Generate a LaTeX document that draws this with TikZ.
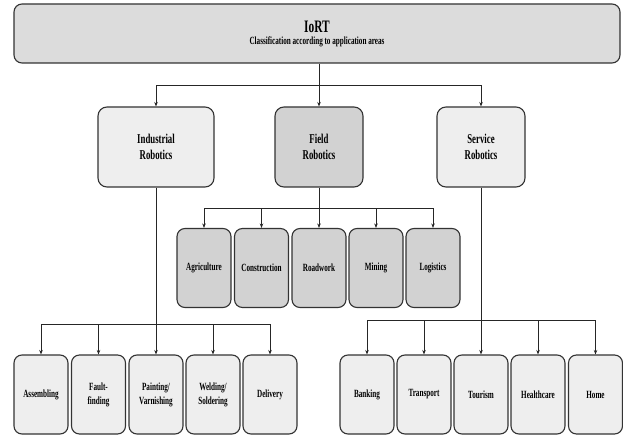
\documentclass[tikz,border=0pt]{standalone}
\usepackage{fontspec}
\setmainfont{Liberation Serif}[FakeStretch=0.65]
\usetikzlibrary{arrows.meta}
\definecolor{topfill}{HTML}{DCDCDC}
\definecolor{lightfill}{HTML}{EEEEEE}
\definecolor{midfill}{HTML}{D2D2D2}
\definecolor{edge}{HTML}{333333}
\begin{document}
\begin{tikzpicture}[x=1pt,y=-1pt,
  box/.style={draw=edge,line width=1.1pt,rounded corners=9pt,inner sep=0pt,align=center,font=\bfseries},
  mainbox/.style={box,minimum width=88pt,minimum height=80pt,font=\bfseries\fontsize{13.5}{16}\selectfont},
  leaf/.style={box,minimum width=54pt,minimum height=79pt,rounded corners=8pt,font=\bfseries\fontsize{11}{14}\selectfont},
  conn/.style={draw=black!85,line width=0.8pt},
  arr/.style={conn,-{Stealth[length=4.5pt,width=3.5pt]}}]
\useasboundingbox (0,0) rectangle (623,435);
\node[box,fill=topfill,minimum width=606pt,minimum height=59pt,rounded corners=8pt] (top) at (317,33.5)
  {{\fontsize{17.5}{19}\selectfont IoRT}\\[0pt]{\fontsize{11}{13}\selectfont Classification according to application areas}};
\node[mainbox,fill=lightfill,minimum width=116pt] (ind) at (156,147) {Industrial\\Robotics};
\node[mainbox,fill=midfill] (fld) at (319,147) {Field\\Robotics};
\node[mainbox,fill=lightfill] (srv) at (481,147) {Service\\Robotics};
% field children
\node[leaf,fill=midfill] (f1) at (204,268) {Agriculture};
\node[leaf,fill=midfill] (f2) at (261.5,268) {Construction};
\node[leaf,fill=midfill] (f3) at (319,268) {Roadwork};
\node[leaf,fill=midfill] (f4) at (376,268) {Mining};
\node[leaf,fill=midfill] (f5) at (433,268) {Logistics};
% industrial children
\node[leaf,fill=lightfill] (i1) at (41,394.5) {Assembling};
\node[leaf,fill=lightfill] (i2) at (98.5,394.5) {Fault-\\finding};
\node[leaf,fill=lightfill] (i3) at (156,394.5) {Painting/\\Varnishing};
\node[leaf,fill=lightfill] (i4) at (213,394.5) {Welding/\\Soldering};
\node[leaf,fill=lightfill] (i5) at (270,394.5) {Delivery};
% service children
\node[leaf,fill=lightfill] (s1) at (367,394.5) {Banking};
\node[leaf,fill=lightfill] (s2) at (424,394.5) {Transport};
\node[leaf,fill=lightfill] (s3) at (481,394.5) {Tourism};
\node[leaf,fill=lightfill] (s4) at (538,394.5) {Healthcare};
\node[leaf,fill=lightfill] (s5) at (595.5,394.5) {Home};
% branch points
\coordinate (b0) at (319,85);
\coordinate (bf) at (319,208);
\coordinate (bi) at (156,324);
\coordinate (bs) at (481,320);
\draw[conn] (top.south -| b0) -- (b0);
\foreach \n in {ind,fld,srv} \draw[arr] (b0) -| (\n.north);
\draw[conn] (fld.south) -- (bf);
\foreach \n in {f1,f2,f3,f4,f5} \draw[arr] (bf) -| (\n.north);
\draw[conn] (ind.south) -- (bi);
\foreach \n in {i1,i2,i3,i4,i5} \draw[arr] (bi) -| (\n.north);
\draw[conn] (srv.south) -- (bs);
\foreach \n in {s1,s2,s3,s4,s5} \draw[arr] (bs) -| (\n.north);
\end{tikzpicture}
\end{document}
